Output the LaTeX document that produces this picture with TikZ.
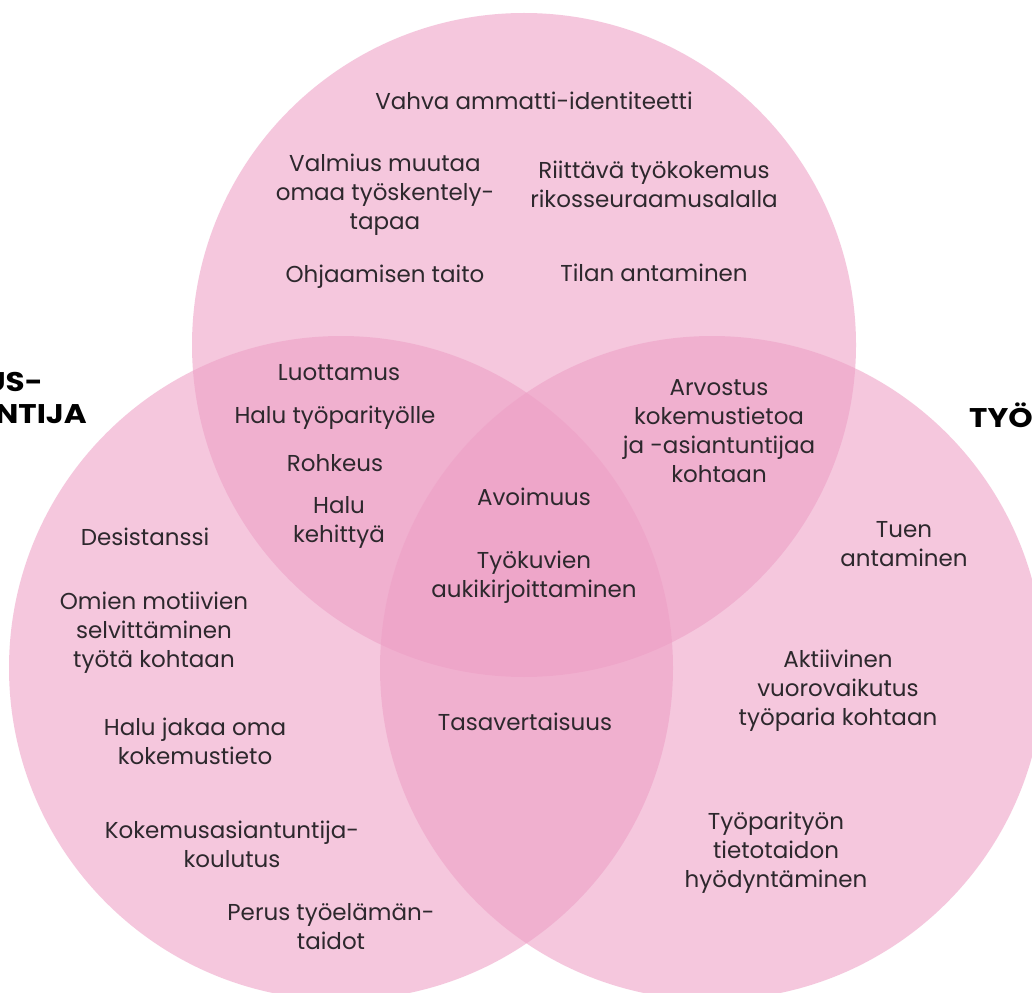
\documentclass[tikz,border=0pt]{standalone}
\usepackage{fontspec}
\setmainfont{Poppins}
\definecolor{vpink}{RGB}{238,160,198}
\definecolor{vtext}{RGB}{45,40,45}
\begin{document}
\begin{tikzpicture}[x=1pt,y=-1pt,
  circ/.style={fill=vpink,fill opacity=0.58,draw=none},
  lbl/.style={text=vtext,font=\fontsize{23}{29}\selectfont,align=center,inner sep=0pt},
  big/.style={text=black,font=\fontsize{27}{32}\selectfont\bfseries,inner sep=0pt,xscale=1.15,transform shape}]
\useasboundingbox (0,0) rectangle (1032,992);
\clip (0,0) rectangle (1032,992);
\fill[white] (0,0) rectangle (1032,992);
\path[circ] (524,345) circle[radius=332];
\path[circ] (341,668) circle[radius=332];
\path[circ] (712,668) circle[radius=332];
% side labels
\node[big,anchor=east] (l1) at (43,382) {US-};
\node[big,anchor=east] (l2) at (87,414) {NTIJA};
\node[big,anchor=west] (r1) at (969,415) {TYÖ};
% top circle
\node[lbl] (t1) at (534,101) {Vahva ammatti-identiteetti};
\node[lbl] (t2) at (385,195) {Valmius muutaa\\omaa työskentely-\\tapaa};
\node[lbl] (t3) at (654,184) {Riittävä työkokemus\\rikosseuraamusalalla};
\node[lbl] (t4) at (385,277) {Ohjaamisen taito};
\node[lbl] (t5) at (654,273) {Tilan antaminen};
% top-left overlap
\node[lbl] (a1) at (339,373) {Luottamus};
\node[lbl] (a2) at (335,418) {Halu työparityölle};
\node[lbl] (a3) at (335,463) {Rohkeus};
\node[lbl] (a4) at (339,522) {Halu\\kehittyä};
% top-right overlap
\node[lbl] (b1) at (719,431) {Arvostus\\kokemustietoa\\ja -asiantuntijaa\\kohtaan};
% centre
\node[lbl] (c1) at (534,497) {Avoimuus};
\node[lbl] (c2) at (534,577) {Työkuvien\\aukikirjoittaminen};
% left circle
\node[lbl] (d1) at (145,537) {Desistanssi};
\node[lbl] (d2) at (154,633) {Omien motiivien\\selvittäminen\\työtä kohtaan};
\node[lbl] (d3) at (195,741) {Halu jakaa oma\\kokemustieto};
\node[lbl] (d4) at (232,844) {Kokemusasiantuntija-\\koulutus};
\node[lbl] (d5) at (331,927) {Perus työelämän-\\taidot};
% bottom overlap
\node[lbl] (e1) at (525,722) {Tasavertaisuus};
% right circle
\node[lbl] (f1) at (904,544) {Tuen\\antaminen};
\node[lbl] (f2) at (838,691) {Aktiivinen\\vuorovaikutus\\työparia kohtaan};
\node[lbl] (f3) at (776,853) {Työparityön\\tietotaidon\\hyödyntäminen};
\end{tikzpicture}
\end{document}
